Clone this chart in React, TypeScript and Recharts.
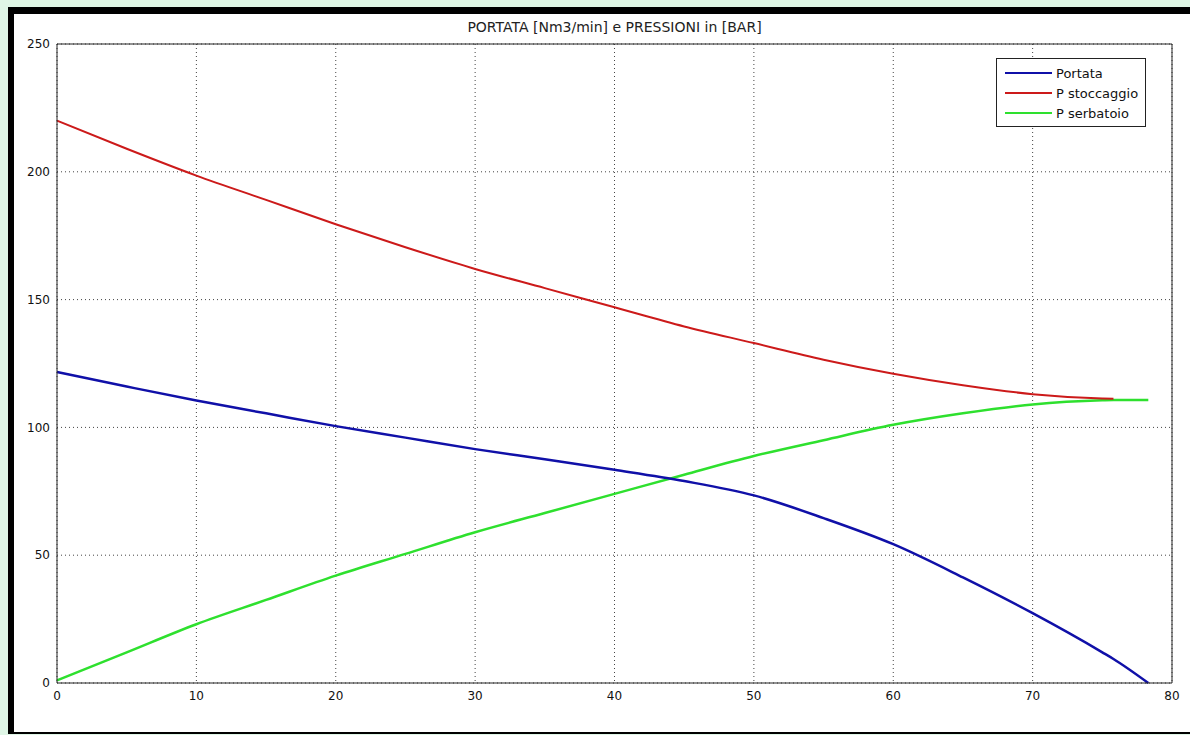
import { LineChart, Line, XAxis, YAxis, CartesianGrid } from 'recharts'

// tempo [min] - campioni
const tempo = [0, 5, 10, 15, 20, 25, 30, 35, 40, 45, 50, 55, 60, 65, 70, 75, 75.8, 78.3]
const portata = [121.7, 116, 110.5, 105.5, 100.5, 96, 91.5, 87.5, 83.4, 79, 73.4, 64.5, 54.3, 41.3, 27.3, 12, 9.4, 0]
const pStoccaggio = [220, 209, 198.5, 189, 179.5, 170.5, 162, 154.5, 147, 139.5, 133, 126.5, 121, 116.5, 113, 111.3, 111.2, null]
const pSerbatoio = [1, 12, 23, 32.5, 42, 50.5, 59, 66.5, 74, 81.5, 88.8, 95, 101, 105.5, 109, 110.6, 110.7, 110.7]

const xTicks = [0, 10, 20, 30, 40, 50, 60, 70, 80]
const yTicks = [0, 50, 100, 150, 200, 250]

const series = [
  { key: 'portata', name: 'Portata', color: '#1010a8' },
  { key: 'pStoccaggio', name: 'P stoccaggio', color: '#cc1a1a' },
  { key: 'pSerbatoio', name: 'P serbatoio', color: '#2ee02e' },
]

const data = tempo.map((t, i) => ({
  t,
  portata: portata[i],
  pStoccaggio: pStoccaggio[i],
  pSerbatoio: pSerbatoio[i],
}))

const FONT = '"DejaVu Sans", "Liberation Sans", Arial, sans-serif'
const AXIS = '#222'
const TICK = '#555'

function LegendBox() {
  return (
    <div
      style={{
        position: 'absolute', left: 996, top: 58,
        width: 150, height: 69,
        boxSizing: 'border-box',
        border: '1px solid #222',
        background: '#fff',
        padding: '4px 0 0 8px',
        fontFamily: FONT,
        fontSize: 13,
        color: '#111',
      }}
    >
      {series.map((s) => (
        <div key={s.key} style={{ display: 'flex', alignItems: 'center', height: 20 }}>
          <span style={{ display: 'inline-block', width: 47, height: 2, background: s.color, marginRight: 4 }} />
          <span>{s.name}</span>
        </div>
      ))}
    </div>
  )
}

export default function App() {
  return (
    <div style={{ position: 'absolute', left: 0, top: 0, width: 1190, height: 735, background: '#dff6e6', overflow: 'hidden' }}>
      <div
        style={{
          position: 'absolute', left: 8, top: 7, width: 1182, height: 727,
          boxSizing: 'border-box', background: '#fff',
          borderTop: '7px solid #000', borderLeft: '6px solid #000', borderBottom: '2px solid #000',
        }}
      />
      <div
        style={{
          position: 'absolute', left: 57, top: 19, width: 1115, textAlign: 'center',
          fontFamily: FONT, fontSize: 14, color: '#222',
        }}
      >
        PORTATA [Nm3/min] e PRESSIONI in [BAR]
      </div>
      <div style={{ position: 'absolute', left: 0, top: 0 }}>
        <LineChart width={1190} height={735} data={data} margin={{ top: 44, right: 18, bottom: 0, left: 0 }}>
          <CartesianGrid xAxisId="x" yAxisId="y" stroke="#444" strokeDasharray="1 3" />
          <XAxis
            xAxisId="x" dataKey="t" type="number" domain={[0, 80]} ticks={xTicks} interval={0}
            height={52} tickSize={0} tickMargin={8} tickLine={false}
            axisLine={{ stroke: AXIS }} tick={{ fill: '#111', fontSize: 12, fontFamily: FONT }}
          />
          {/* inward tick marks, MATLAB style (mirror axes take no space) */}
          <XAxis
            xAxisId="xi" dataKey="t" type="number" domain={[0, 80]} ticks={xTicks} interval={0}
            mirror tickSize={11} tick={false} axisLine={false} tickLine={{ stroke: TICK }}
          />
          <XAxis
            xAxisId="xt" dataKey="t" orientation="top" type="number" domain={[0, 80]} ticks={xTicks} interval={0}
            mirror tickSize={11} tick={false} axisLine={{ stroke: AXIS }} tickLine={{ stroke: TICK }}
          />
          <YAxis
            yAxisId="y" type="number" domain={[0, 250]} ticks={yTicks} interval={0}
            width={57} tickSize={0} tickMargin={7} tickLine={false}
            axisLine={{ stroke: AXIS }} tick={{ fill: '#111', fontSize: 12, fontFamily: FONT }}
          />
          <YAxis
            yAxisId="yi" type="number" domain={[0, 250]} ticks={yTicks} interval={0}
            mirror tickSize={11} tick={false} axisLine={false} tickLine={{ stroke: TICK }}
          />
          <YAxis
            yAxisId="yr" orientation="right" type="number" domain={[0, 250]} ticks={yTicks} interval={0}
            mirror tickSize={11} tick={false} axisLine={{ stroke: AXIS }} tickLine={{ stroke: TICK }}
          />
          {/* invisible series so the tick-only axes get a scale */}
          <Line
            xAxisId="xi" yAxisId="yi" dataKey="portata" stroke="none" dot={false}
            legendType="none" isAnimationActive={false}
          />
          <Line
            xAxisId="xt" yAxisId="yr" dataKey="portata" stroke="none" dot={false}
            legendType="none" isAnimationActive={false}
          />
          <Line
            xAxisId="x" yAxisId="y" type="monotone" dataKey="pSerbatoio" name="P serbatoio"
            stroke="#2ee02e" strokeWidth={2.5} dot={false} isAnimationActive={false}
          />
          <Line
            xAxisId="x" yAxisId="y" type="monotone" dataKey="pStoccaggio" name="P stoccaggio"
            stroke="#cc1a1a" strokeWidth={2} dot={false} isAnimationActive={false}
          />
          <Line
            xAxisId="x" yAxisId="y" type="monotone" dataKey="portata" name="Portata"
            stroke="#1010a8" strokeWidth={2.5} dot={false} isAnimationActive={false}
          />
        </LineChart>
      </div>
      <LegendBox />
    </div>
  )
}
